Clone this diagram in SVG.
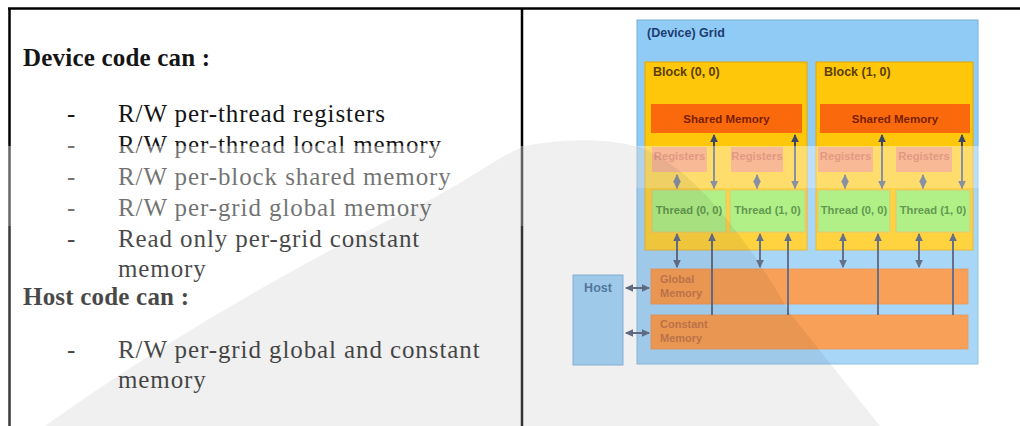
<svg xmlns="http://www.w3.org/2000/svg" width="1020" height="426" viewBox="0 0 1020 426">
<style>
.t{font-family:"Liberation Serif","Times New Roman",serif;font-size:25px;letter-spacing:0.9px;fill:#151515}
.h{font-weight:bold;letter-spacing:0.2px}
.s{font-family:"Liberation Sans",Arial,sans-serif;font-weight:bold}
.grid{fill:#90cbf5;stroke:#74b0da;stroke-width:1}
.blk{fill:#fec70a;stroke:#e3a600;stroke-width:1}
.shm{fill:#fa6a0c}
.reg{fill:#f28a50}
.thr{fill:#9ceb66;stroke:#d9b850;stroke-width:1}
.mem{fill:#f7862a;stroke:#e8782a;stroke-width:0.8}
.host{fill:#90cbf5;stroke:#6ea6d4;stroke-width:1}
.frame{stroke:#000;stroke-width:2.5;fill:none}
.c{stroke:#3a4868;stroke-width:2;fill:none}
.dbl{marker-start:url(#ah);marker-end:url(#ah)}
.one{marker-end:url(#ah)}
</style>
<defs>
<marker id="ah" markerUnits="userSpaceOnUse" markerWidth="9" markerHeight="9" viewBox="0 0 8 8" refX="6.5" refY="4" orient="auto-start-reverse">
<path d="M0,0.5 L7.5,4 L0,7.5 z" fill="#3a4868"/>
</marker>
</defs>
<rect x="0" y="0" width="1020" height="426" fill="#fff"/>

<g id="text-panel">
<text class="t h" x="23" y="66">Device code can :</text>
<text class="t" x="67" y="122">-</text><text class="t" x="118" y="122">R/W per-thread registers</text>
<text class="t" x="67" y="153">-</text><text class="t" x="118" y="153">R/W per-thread local memory</text>
<text class="t" x="67" y="185">-</text><text class="t" x="118" y="185">R/W per-block shared memory</text>
<text class="t" x="67" y="216">-</text><text class="t" x="118" y="216">R/W per-grid global memory</text>
<text class="t" x="67" y="247">-</text><text class="t" x="118" y="247">Read only per-grid constant</text>
<text class="t" x="118" y="277">memory</text>
<text class="t h" x="23" y="305">Host code can :</text>
<text class="t" x="67" y="358">-</text><text class="t" x="118" y="358">R/W per-grid global and constant</text>
<text class="t" x="118" y="388">memory</text>
</g>

<g id="grid">
<rect class="grid" x="637" y="20" width="341" height="344"/>
<text class="s" x="647" y="37" font-size="12.5" fill="#1d3d70">(Device) Grid</text>
</g>

<g id="block-0-0">
<rect class="blk" x="645" y="62" width="162" height="188"/>
<text class="s" x="653" y="76" font-size="12.5" fill="#5a3e00">Block (0, 0)</text>
</g>
<g id="block-1-0">
<rect class="blk" x="816" y="62" width="157" height="188"/>
<text class="s" x="824" y="76" font-size="12.5" fill="#5a3e00">Block (1, 0)</text>
</g>

<g id="shared-0">
<rect class="shm" x="651" y="104" width="151" height="29"/>
<text class="s" x="726.5" y="123" font-size="11.5" fill="#7a1e00" text-anchor="middle">Shared Memory</text>
</g>
<g id="shared-1">
<rect class="shm" x="820" y="104" width="150" height="29"/>
<text class="s" x="895" y="123" font-size="11.5" fill="#7a1e00" text-anchor="middle">Shared Memory</text>
</g>

<g id="reg-0-0"><rect class="reg" x="652" y="147" width="55" height="25"/><text class="s" x="679.5" y="160" font-size="11.3" fill="#cf5530" text-anchor="middle">Registers</text></g>
<g id="reg-0-1"><rect class="reg" x="731" y="147" width="52" height="25"/><text class="s" x="757" y="160" font-size="11.3" fill="#cf5530" text-anchor="middle">Registers</text></g>
<g id="reg-1-0"><rect class="reg" x="818" y="147" width="55" height="25"/><text class="s" x="845.5" y="160" font-size="11.3" fill="#cf5530" text-anchor="middle">Registers</text></g>
<g id="reg-1-1"><rect class="reg" x="896" y="147" width="56" height="25"/><text class="s" x="924" y="160" font-size="11.3" fill="#cf5530" text-anchor="middle">Registers</text></g>

<g id="thread-0-0"><rect class="thr" x="652" y="190" width="74" height="42"/><text class="s" x="689" y="214" font-size="11.2" fill="#357d1c" text-anchor="middle">Thread (0, 0)</text></g>
<g id="thread-0-1"><rect class="thr" x="730" y="190" width="75" height="42"/><text class="s" x="767.5" y="214" font-size="11.2" fill="#357d1c" text-anchor="middle">Thread (1, 0)</text></g>
<g id="thread-1-0"><rect class="thr" x="818" y="190" width="72" height="42"/><text class="s" x="854" y="214" font-size="11.2" fill="#357d1c" text-anchor="middle">Thread (0, 0)</text></g>
<g id="thread-1-1"><rect class="thr" x="896" y="190" width="74" height="42"/><text class="s" x="933" y="214" font-size="11.2" fill="#357d1c" text-anchor="middle">Thread (1, 0)</text></g>

<g id="global-memory">
<rect class="mem" x="651" y="269" width="317" height="35"/>
<text class="s" x="660" y="283" font-size="11" fill="#b8541a">Global</text>
<text class="s" x="660" y="297" font-size="11" fill="#b8541a">Memory</text>
</g>
<g id="constant-memory">
<rect class="mem" x="651" y="315" width="317" height="34"/>
<text class="s" x="660" y="328" font-size="11" fill="#b8541a">Constant</text>
<text class="s" x="660" y="342" font-size="11" fill="#b8541a">Memory</text>
</g>

<g id="host">
<rect class="host" x="573" y="275" width="50" height="90"/>
<text class="s" x="598" y="292" font-size="12.5" fill="#2a5b8f" text-anchor="middle">Host</text>
</g>

<g id="connectors">
<line class="c dbl" x1="677" y1="175" x2="677" y2="188"/>
<line class="c dbl" x1="757" y1="175" x2="757" y2="188"/>
<line class="c dbl" x1="845" y1="175" x2="845" y2="188"/>
<line class="c dbl" x1="923" y1="175" x2="923" y2="188"/>
<line class="c dbl" x1="714" y1="135" x2="714" y2="188"/>
<line class="c dbl" x1="795" y1="135" x2="795" y2="188"/>
<line class="c dbl" x1="882" y1="135" x2="882" y2="188"/>
<line class="c dbl" x1="962" y1="135" x2="962" y2="188"/>
<line class="c dbl" x1="677" y1="234" x2="677" y2="267"/>
<line class="c dbl" x1="760" y1="234" x2="760" y2="267"/>
<line class="c dbl" x1="843" y1="234" x2="843" y2="267"/>
<line class="c dbl" x1="919" y1="234" x2="919" y2="267"/>
<line class="c one" x1="712" y1="315" x2="712" y2="234"/>
<line class="c one" x1="788" y1="315" x2="788" y2="234"/>
<line class="c one" x1="878" y1="315" x2="878" y2="234"/>
<line class="c one" x1="953" y1="315" x2="953" y2="234"/>
<line class="c dbl" x1="626" y1="288" x2="649" y2="288"/>
<line class="c dbl" x1="626" y1="333" x2="649" y2="333"/>
</g>

<g id="frame">
<line class="frame" x1="8" y1="8.5" x2="1020" y2="8.5"/>
<line class="frame" x1="9.5" y1="8.5" x2="9.5" y2="426"/>
<line class="frame" x1="522" y1="8.5" x2="522" y2="426"/>
</g>

<g id="watermark">
<path d="M0,146 H1020 V188 H524 V226 H0 Z" fill="#fff" opacity="0.4"/>
<path d="M0,226 H524 V188 H1020 V426 H0 Z" fill="#fff" opacity="0.22"/>
<path d="M45,426 C150,350 300,262 420,205 C470,180 500,155 525,146 C565,138 610,138 642,148 C700,170 760,260 790,313 L880,426 Z" fill="#000" opacity="0.06"/>
</g>
</svg>
